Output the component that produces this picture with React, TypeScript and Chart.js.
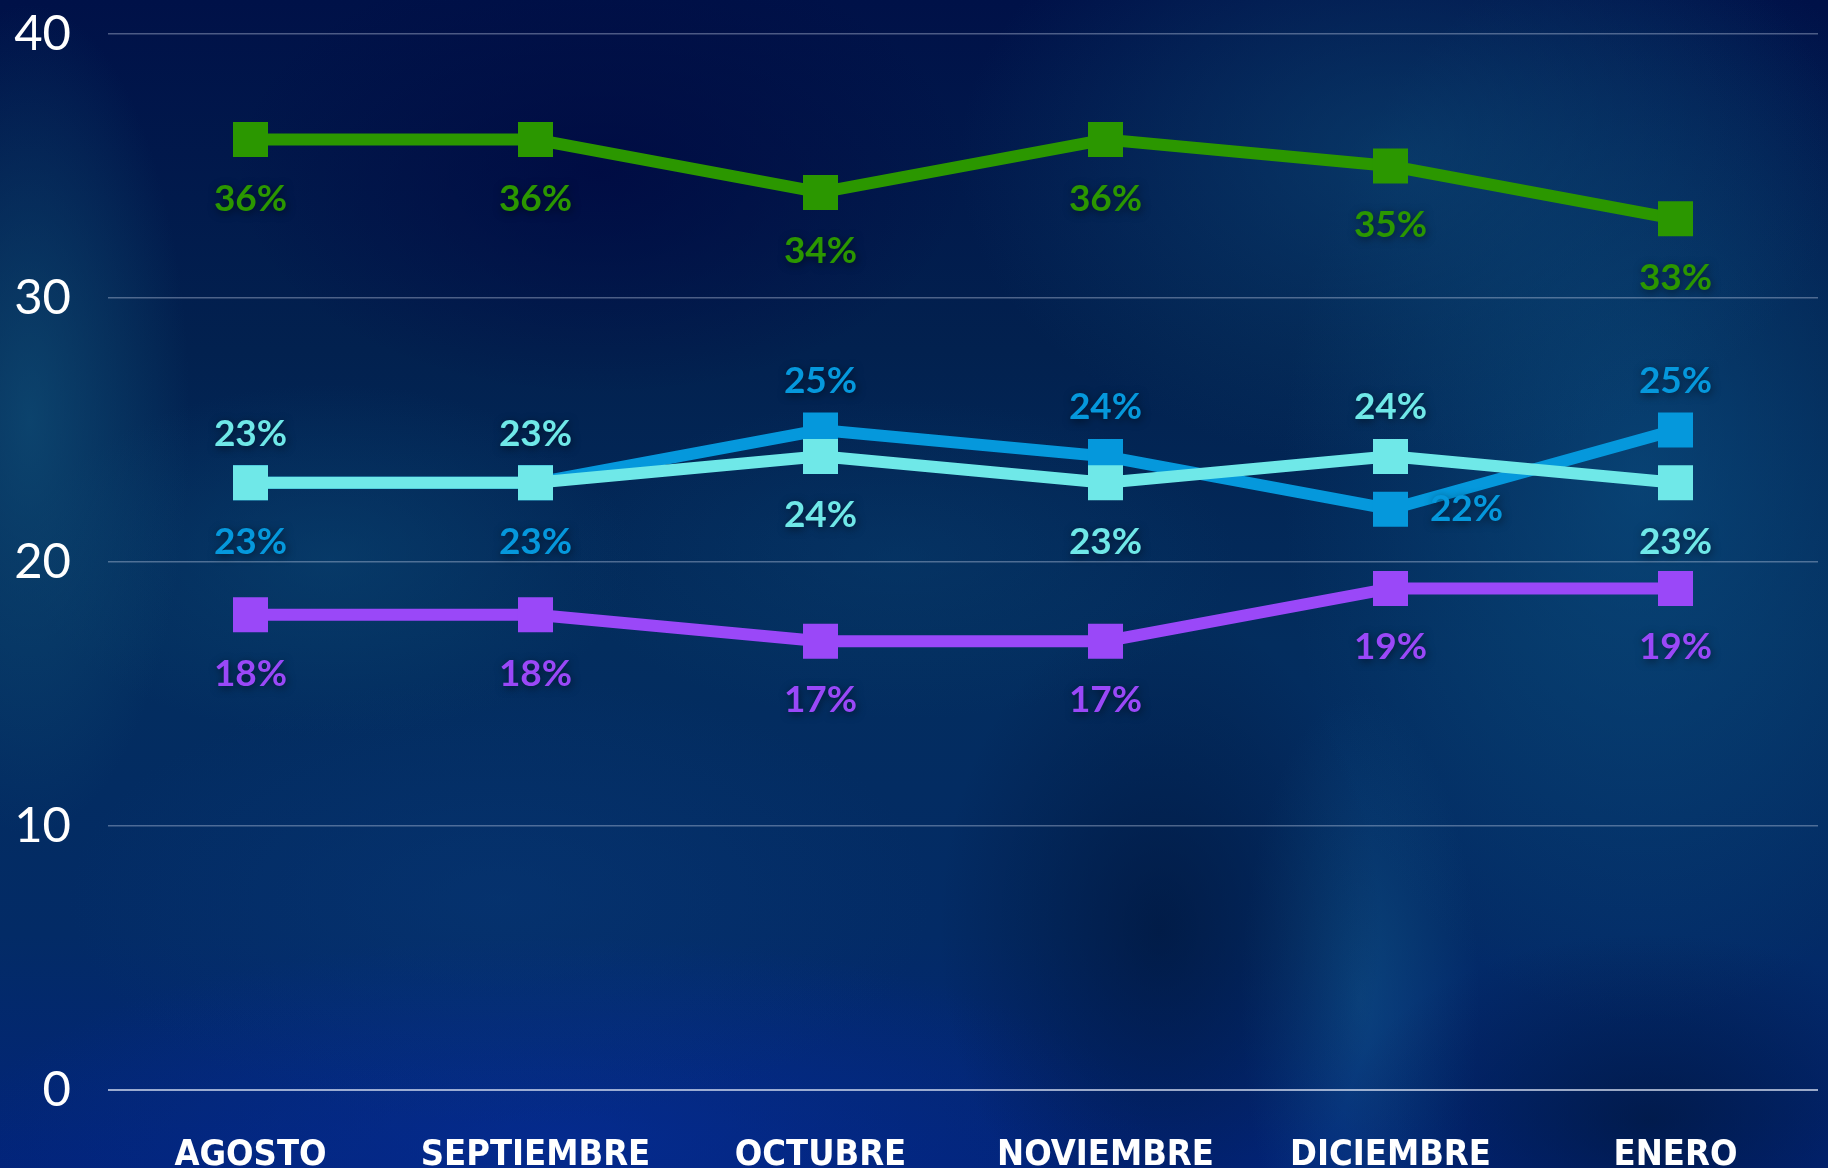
import React, { useEffect, useRef } from "react";
import { Chart, registerables } from "chart.js";

Chart.register(...registerables);

// ---- Data ----
const months = ["AGOSTO", "SEPTIEMBRE", "OCTUBRE", "NOVIEMBRE", "DICIEMBRE", "ENERO"];
const greenValues = [36, 36, 34, 36, 35, 33];
const cyanValues = [23, 23, 24, 23, 24, 23];
const blueValues = [23, 23, 25, 24, 22, 25];
const purpleValues = [18, 18, 17, 17, 19, 19];
const yTickValues = [0, 10, 20, 30, 40];

// label placement relative to each point: "a" above, "b" below, "r" right
const greenLabelSide = ["b", "b", "b", "b", "b", "b"];
const cyanLabelSide = ["a", "a", "b", "b", "a", "b"];
const blueLabelSide = ["b", "b", "a", "a", "r", "a"];
const purpleLabelSide = ["b", "b", "b", "b", "b", "b"];

const GREEN = "#2b9700";
const CYAN = "#6fe8e8";
const BLUE = "#0598dc";
const PURPLE = "#9a48f8";

const labelPlugin = {
  id: "pointLabels",
  afterDatasetsDraw(chart: any) {
    const ctx = chart.ctx;
    ctx.save();
    ctx.font = "bold 37px Lato, 'Open Sans', sans-serif";
    ctx.textAlign = "center";
    ctx.textBaseline = "middle";
    chart.data.datasets.forEach((ds: any, di: number) => {
      const meta = chart.getDatasetMeta(di);
      meta.data.forEach((pt: any, i: number) => {
        const side = ds.labelSide[i];
        let x = pt.x;
        let y = pt.y;
        if (side === "a") y -= 49;
        else if (side === "b") y += 59;
        else { x += 76; }
        ctx.shadowColor = "rgba(0,0,0,0.55)";
        ctx.shadowBlur = 8;
        ctx.shadowOffsetX = 1;
        ctx.shadowOffsetY = 2;
        ctx.fillStyle = ds.borderColor;
        ctx.fillText(ds.data[i] + "%", x, y);
      });
    });
    ctx.restore();
  },
};

function makeDataset(label: string, data: number[], color: string, sides: string[]) {
  return {
    label,
    data,
    labelSide: sides,
    borderColor: color,
    backgroundColor: color,
    borderWidth: 12,
    tension: 0,
    pointStyle: "rect",
    pointRadius: 24.75,
    pointHoverRadius: 24.75,
    pointBorderWidth: 0,
    pointBackgroundColor: color,
    fill: false,
  };
}

export default function App() {
  const canvasRef = useRef<HTMLCanvasElement | null>(null);

  useEffect(() => {
    if (!canvasRef.current) return;
    const chart = new Chart(canvasRef.current, {
      type: "line",
      data: {
        labels: months,
        datasets: [
          makeDataset("Serie 1", cyanValues, CYAN, cyanLabelSide),
          makeDataset("Serie 2", blueValues, BLUE, blueLabelSide),
          makeDataset("Serie 3", greenValues, GREEN, greenLabelSide),
          makeDataset("Serie 4", purpleValues, PURPLE, purpleLabelSide),
        ] as any,
      },
      options: {
        animation: false,
        responsive: true,
        maintainAspectRatio: false,
        layout: { autoPadding: false, padding: { top: 34, right: 10, left: 0, bottom: 0 } },
        plugins: {
          legend: { display: false },
          tooltip: { enabled: false },
        },
        scales: {
          x: {
            offset: true,
            grid: { display: false },
            border: { display: false },
            ticks: {
              color: "#ffffff",
              padding: 36,
              maxRotation: 0,
              autoSkip: false,
              font: {
                family: "'Liberation Sans Narrow', 'DejaVu Sans Condensed', sans-serif",
                weight: "bold",
                size: 36,
              },
            },
            afterFit: (scale: any) => {
              scale.height = 78;
              scale.paddingLeft = 0;
              scale.paddingRight = 0;
            },
          },
          y: {
            min: 0,
            max: 40,
            border: { display: false },
            grid: {
              drawTicks: false,
              color: (c: any) =>
                c.tick && c.tick.value === 0 ? "rgba(220,228,245,0.7)" : "rgba(200,210,235,0.38)",
              lineWidth: (c: any) => (c.tick && c.tick.value === 0 ? 2 : 1.5),
            },
            afterBuildTicks: (scale: any) => {
              scale.ticks = yTickValues.map((v) => ({ value: v }));
            },
            ticks: {
              color: "#ffffff",
              padding: 37,
              font: { family: "Lato, 'Open Sans', sans-serif", weight: "normal", size: 49 },
            },
            afterFit: (scale: any) => {
              scale.width = 108;
              scale.paddingTop = 0;
              scale.paddingBottom = 0;
            },
          },
        },
      } as any,
      plugins: [labelPlugin],
    });
    return () => chart.destroy();
  }, []);

  const bg = [
    // dark patches
    "radial-gradient(ellipse 460px 280px at 600px 170px, rgba(0,10,66,0.85), transparent 80%)",
    "radial-gradient(ellipse 260px 380px at 1160px 930px, rgba(0,18,52,0.6), transparent 85%)",
    "radial-gradient(ellipse 360px 220px at 1650px 1120px, rgba(0,20,50,0.6), transparent 85%)",
    // light teal patches
    "radial-gradient(ellipse 200px 520px at 30px 420px, rgba(16,80,120,0.7), transparent 80%)",
    "radial-gradient(ellipse 380px 220px at 330px 560px, rgba(10,70,115,0.55), transparent 80%)",
    "radial-gradient(ellipse 520px 360px at 1400px 160px, rgba(14,80,125,0.55), transparent 85%)",
    "radial-gradient(ellipse 420px 640px at 1640px 480px, rgba(12,84,135,0.6), transparent 85%)",
    "radial-gradient(ellipse 420px 200px at 900px 560px, rgba(8,62,110,0.45), transparent 80%)",
    "radial-gradient(ellipse 140px 360px at 1360px 1000px, rgba(20,95,145,0.45), transparent 85%)",
    "radial-gradient(ellipse 540px 280px at 500px 900px, rgba(8,58,120,0.45), transparent 80%)",
    // royal blue at the bottom
    "radial-gradient(ellipse 700px 240px at 560px 1140px, rgba(6,45,150,0.7), transparent 85%)",
    "linear-gradient(180deg, #001148 0%, #02214f 30%, #032d5e 55%, #032b66 80%, #02247a 100%)",
  ].join(", ");

  return (
    <div
      style={{
        position: "absolute",
        left: 0,
        top: 0,
        width: 1828,
        height: 1168,
        background: bg,
        overflow: "hidden",
      }}
    >
      <canvas ref={canvasRef} style={{ width: "100%", height: "100%" }} />
    </div>
  );
}
